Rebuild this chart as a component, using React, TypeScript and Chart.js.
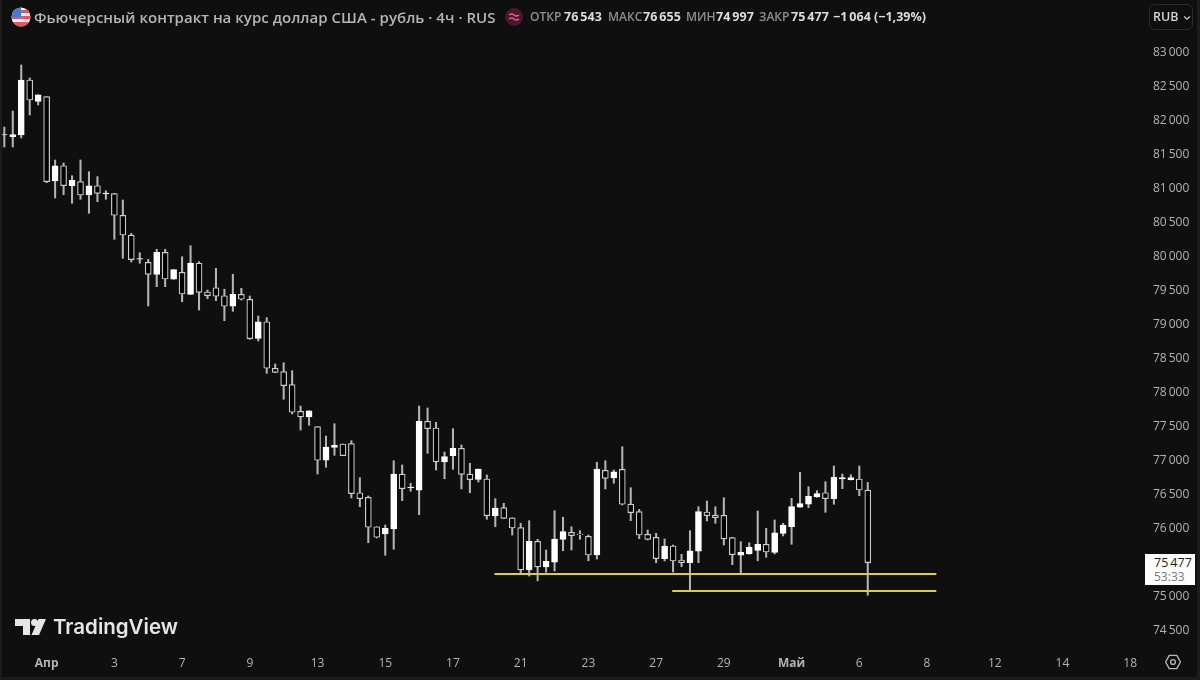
import React, { useEffect, useRef } from "react";
import { Chart, registerables } from "chart.js";

Chart.register(...registerables);

const opens = [81765,81740,81765,82574,82260,82328,81088,81313,81015,81078,80882,81019,80897,80902,80584,80294,79937,79893,79716,80040,79643,79746,79422,79882,79456,79519,79401,79246,79422,79349,78775,79019,78334,78284,78093,77701,77618,77475,76981,77172,77221,77225,76504,76437,76004,75897,75971,76779,76578,76540,77554,77456,76956,77049,77157,76779,76701,76706,76162,76284,76134,75990,75368,75790,75412,75481,75819,75922,75897,75863,75588,76834,76721,76849,76338,76225,75893,75849,75534,75721,75515,75475,75643,76221,76176,76172,75843,75584,75603,75657,75746,75628,75907,76004,76290,76334,76441,76504,76416,76706,76696,76706,76543];
const highs = [81882,82118,82794,82603,82357,82328,81397,81353,81166,81397,81225,81152,80946,80907,80809,80319,80034,79937,80084,80084,79784,79975,80137,79902,79485,79804,79496,79716,79510,79397,79103,79078,78397,78416,78299,77779,77710,77475,77338,77519,77221,77269,76725,76456,76004,76029,76975,76912,76643,77779,77750,77540,77103,77446,77206,76937,76853,76765,76416,76349,76134,76054,76093,75819,75662,76240,76143,76004,75946,75882,76951,76975,76838,77181,76578,76260,75956,75907,75824,75735,75599,75946,76299,76382,76299,76431,75849,75784,75769,76235,75981,76103,76054,76422,76804,76593,76534,76666,76897,76779,76769,76897,76655];
const lows = [81588,81588,81721,82059,82206,81063,80838,80887,80760,80819,80613,80784,80819,80231,79951,79897,79878,79250,79534,79534,79643,79313,79422,79191,79357,79328,79034,79172,79338,78760,78735,78260,78269,77878,77662,77426,77496,76779,76878,77054,77049,76426,76299,75769,75838,75584,75672,76387,76525,76181,77084,76838,76710,76849,76559,76504,76662,76113,76004,76122,75882,75304,75279,75210,75334,75353,75651,75662,75819,75504,75529,76559,76643,76324,76093,75828,75809,75475,75500,75338,75416,75063,75475,76088,76054,75735,75446,75328,75599,75504,75554,75603,75868,75746,76290,76284,76437,76216,76334,76563,76691,76460,74997];
const closes = [81772,81772,82574,82279,82357,81078,81313,81019,81099,80882,81019,80907,80912,80584,80294,79931,79949,79716,80040,79647,79784,79426,79882,79451,79401,79393,79246,79422,79349,78769,79019,78334,78275,78078,77687,77618,77710,76981,77176,77201,77049,76490,76416,75996,75849,75981,76779,76563,76588,77554,77446,76956,77034,77157,76775,76696,76853,76166,76279,76128,75985,75368,75790,75412,75496,75824,75931,75872,75887,75588,76853,76716,76813,76334,76210,75882,75819,75534,75721,75500,75475,75651,76225,76166,76137,75824,75593,75628,75701,75746,75632,75916,76029,76299,76343,76451,76490,76416,76731,76725,76725,76544,75477];

const priceTicks = [74500,75000,75500,76000,76500,77000,77500,78000,78500,79000,79500,80000,80500,81000,81500,82000,82500,83000];
const timeTickIndex = [5,13,21,29,37,45,53,61,69,77,85,93,101,109,117,125,133];
const timeTickLabels = ["Апр","3","7","9","13","15","17","21","23","27","29","Май","6","8","12","14","18"];
const boldTimeLabels = ["Апр","Май"];

const supportUpperX = [57.9, 110.1];
const supportUpperY = [75310, 75310];
const supportLowerX = [78.9, 110.1];
const supportLowerY = [75060, 75060];

const titleText = "Фьючерсный контракт на курс доллар США - рубль · 4ч · RUS";
const quoteLabels = ["ОТКР", "МАКС", "МИН", "ЗАКР"];
const quoteValues = ["76\u2009543", "76\u2009655", "74\u2009997", "75\u2009477"];
const changeText = "−1\u2009064 (−1,39%)";
const lastPriceText = "75\u2009477";
const countdownText = "53:33";
const currencyText = "RUB";
const brandText = "TradingView";

const BG = "#0f0f0f";
const AXIS = "#b2b3b5";
const FONT = "'Open Sans', 'Noto Sans', sans-serif";

const fmtPrice = (v: number) => {
  const s = String(Math.round(v));
  return s.slice(0, 2) + "\u2009" + s.slice(2);
};

const abs = (left: number, top: number, extra: React.CSSProperties = {}): React.CSSProperties => ({
  position: "absolute",
  left,
  top,
  whiteSpace: "nowrap",
  fontFamily: FONT,
  ...extra,
});

export default function App() {
  const ref = useRef<HTMLCanvasElement | null>(null);

  useEffect(() => {
    document.body.style.margin = "0";
    document.body.style.background = BG;
    const wickData = highs.map((h, i) => ({ x: i, y: [lows[i], h] }));
    const bodyData = opens.map((o, i) => ({ x: i, y: [o, closes[i]] }));
    const bodyFill = opens.map((o, i) => (closes[i] >= o ? "#ffffff" : "#000000"));
    const bodyEdge = opens.map((o, i) => (closes[i] >= o ? "#ffffff" : "#cccccc"));
    const toXY = (xs: number[], ys: number[]) => xs.map((x, i) => ({ x, y: ys[i] }));

    const chart = new Chart(ref.current as HTMLCanvasElement, {
      type: "bar",
      data: {
        datasets: [
          {
            type: "line",
            data: toXY(supportUpperX, supportUpperY),
            borderColor: "#dccb4c",
            borderWidth: 2,
            pointRadius: 0,
            order: 0,
          },
          {
            type: "line",
            data: toXY(supportLowerX, supportLowerY),
            borderColor: "#dccb4c",
            borderWidth: 2,
            pointRadius: 0,
            order: 0,
          },
          {
            type: "bar",
            data: bodyData,
            backgroundColor: bodyFill,
            borderColor: bodyEdge,
            borderWidth: 1.2,
            borderSkipped: false,
            barThickness: 6,
            grouped: false,
            order: 1,
          },
          {
            type: "bar",
            data: wickData,
            backgroundColor: "#b4b4b4",
            borderWidth: 0,
            barThickness: 1.4,
            grouped: false,
            order: 2,
          },
        ],
      } as any,
      options: {
        responsive: false,
        animation: false,
        events: [],
        layout: { padding: 0 },
        plugins: { legend: { display: false }, tooltip: { enabled: false }, title: { display: false } },
        scales: {
          x: {
            type: "linear",
            offset: false,
            bounds: "data",
            min: -0.51,
            max: 134.75,
            grid: { display: false, drawTicks: false },
            border: { display: false },
            afterFit: (s: any) => { s.height = 32; s.paddingLeft = 0; s.paddingRight = 0; },
            afterBuildTicks: (s: any) => { s.ticks = timeTickIndex.map((value) => ({ value })); },
            ticks: {
              autoSkip: false,
              maxRotation: 0,
              padding: 8,
              color: AXIS,
              callback: (v: any) => timeTickLabels[timeTickIndex.indexOf(Number(v))] ?? "",
              font: (ctx: any) => {
                const label = timeTickLabels[timeTickIndex.indexOf(Number(ctx.tick?.value))];
                return { family: FONT, size: 12, weight: boldTimeLabels.includes(label) ? "700" : "400" };
              },
            },
          },
          y: {
            type: "linear",
            position: "right",
            bounds: "data",
            min: 74220.6,
            max: 83750,
            grid: { display: false, drawTicks: false },
            border: { display: false },
            afterFit: (s: any) => { s.width = 55; s.paddingTop = 0; s.paddingBottom = 0; },
            afterBuildTicks: (s: any) => { s.ticks = priceTicks.map((value) => ({ value })); },
            ticks: {
              autoSkip: false,
              padding: 8,
              labelOffset: 1.5,
              color: AXIS,
              font: { family: FONT, size: 12 },
              callback: (v: any) => fmtPrice(Number(v)),
            },
          },
        },
      } as any,
    });
    return () => chart.destroy();
  }, []);

  const quoteLefts = [530, 608, 686, 759];
  const valueLefts = [564, 643, 716, 791];

  return (
    <div style={{ position: "fixed", left: 0, top: 0, width: 1200, height: 680, background: BG, overflow: "hidden" }}>
      <canvas ref={ref} width={1200} height={680} style={{ display: "block", width: 1200, height: 680 }} />

      <svg width={20} height={20} viewBox="0 0 20 20" style={{ position: "absolute", left: 11, top: 7 }}>
        <defs>
          <clipPath id="flagClip"><circle cx={10} cy={10} r={9.5} /></clipPath>
        </defs>
        <g clipPath="url(#flagClip)">
          <rect width={20} height={20} fill="#f2f2f2" />
          <rect y={3} width={20} height={3} fill="#e25563" />
          <rect y={9} width={20} height={3} fill="#e25563" />
          <rect y={15} width={20} height={5} fill="#e25563" />
          <rect width={10} height={10} fill="#4a78d0" />
        </g>
      </svg>
      <div style={abs(34, 7, { fontSize: 15, fontWeight: 600, lineHeight: "20px", letterSpacing: "0.03px", color: "#b4b5b7" })}>{titleText}</div>

      <svg width={20} height={20} viewBox="0 0 20 20" style={{ position: "absolute", left: 504, top: 7 }}>
        <circle cx={10} cy={10} r={9} fill="#4a1730" />
        <path d="M5 8 q2.5 -2 5 0 t5 0 M5 12 q2.5 -2 5 0 t5 0" fill="none" stroke="#e85c84" strokeWidth={1.5} />
      </svg>
      {quoteLabels.map((t, i) => (
        <React.Fragment key={t}>
          <div style={abs(quoteLefts[i], 8, { fontSize: 12, fontWeight: 600, lineHeight: "18px", color: "#8e8f92" })}>{t}</div>
          <div style={abs(valueLefts[i], 8, { fontSize: 12.5, fontWeight: 700, lineHeight: "18px", color: "#dcdcdc" })}>{quoteValues[i]}</div>
        </React.Fragment>
      ))}
      <div style={abs(833, 8, { fontSize: 12.5, fontWeight: 700, lineHeight: "18px", color: "#dcdcdc" })}>{changeText}</div>

      <div style={{ position: "absolute", left: 1149, top: 4, width: 44, height: 26, boxSizing: "border-box", border: "1px solid #2b2b2b", borderRadius: 6 }} />
      <div style={abs(1153, 8, { fontSize: 12.5, fontWeight: 600, lineHeight: "18px", color: "#d4d4d4" })}>{currencyText}</div>
      <svg width={8} height={6} viewBox="0 0 8 6" style={{ position: "absolute", left: 1183, top: 15 }}>
        <path d="M1 1.5 L4 4 L7 1.5" fill="none" stroke="#c0c0c0" strokeWidth={1.4} />
      </svg>

      <div style={{ position: "absolute", left: 1145, top: 554, width: 50, height: 31, background: "#fdfdfd" }} />
      <div style={abs(1154, 555, { fontSize: 12.5, fontWeight: 500, lineHeight: "15px", color: "#1a1a1a" })}>{lastPriceText}</div>
      <div style={abs(1154, 569, { fontSize: 12, lineHeight: "15px", color: "#77797d" })}>{countdownText}</div>

      <svg width={34} height={20} viewBox="0 0 34 20" style={{ position: "absolute", left: 14, top: 617 }}>
        <path d="M1 2 H16 V18 H9 V9 H1 Z" fill="#e6e6e6" />
        <circle cx={20.5} cy={5.5} r={3.5} fill="#e6e6e6" />
        <path d="M24.5 2 H32 L25 18 H17.5 Z" fill="#e6e6e6" />
      </svg>
      <div style={abs(53, 613, { fontFamily: "Inter, " + FONT, fontSize: 20.5, fontWeight: 600, lineHeight: "28px", color: "#e6e6e6" })}>{brandText}</div>

      <svg width={18} height={18} viewBox="0 0 18 18" style={{ position: "absolute", left: 1164, top: 653 }}>
        <path d="M5.2 2.4 H12.8 L16.4 9 L12.8 15.6 H5.2 L1.6 9 Z" fill="none" stroke="#b2b3b5" strokeWidth={1.4} strokeLinejoin="round" />
        <circle cx={9} cy={9} r={2.4} fill="none" stroke="#b2b3b5" strokeWidth={1.4} />
      </svg>

      <div style={{ position: "absolute", left: 0, top: 0, width: 2, height: 680, background: "#1c1c1c" }} />
      <div style={{ position: "absolute", left: 1197, top: 0, width: 3, height: 680, background: "#1c1c1c" }} />
      <div style={{ position: "absolute", left: 0, top: 677, width: 1200, height: 3, background: "#1c1c1c" }} />
    </div>
  );
}
